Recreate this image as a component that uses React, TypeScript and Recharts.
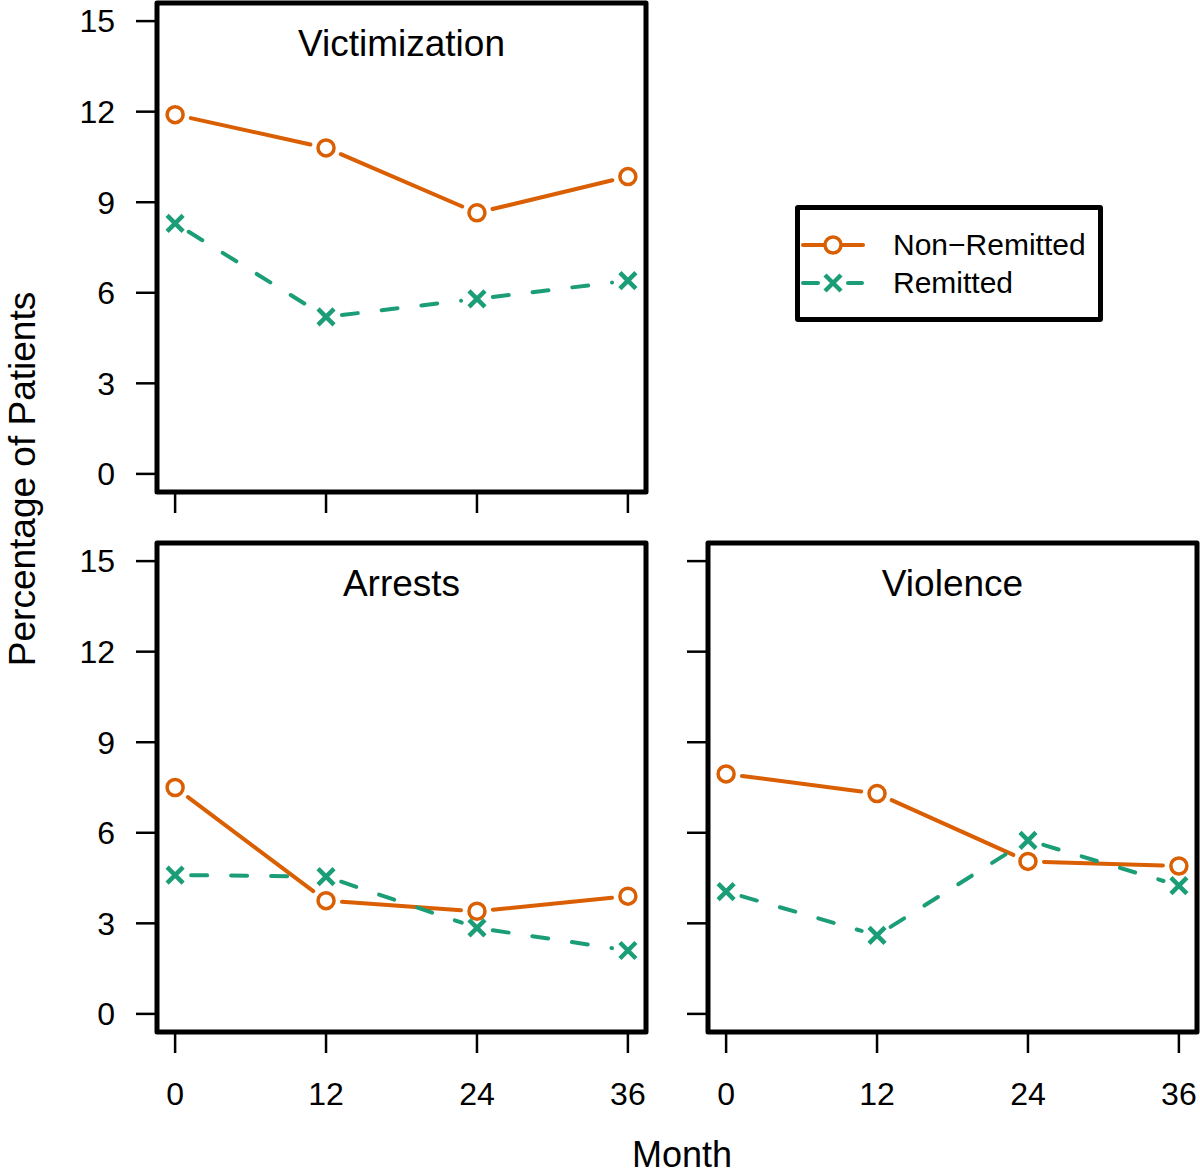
import React from 'react';
import { ComposedChart, Scatter, XAxis, YAxis, ReferenceArea, Legend } from 'recharts';

// months on the x axis, percentages
const months = [0, 12, 24, 36];
const yTicks = [0, 3, 6, 9, 12, 15];

const victimNonRemitted = [11.9, 10.8, 8.65, 9.85];
const victimRemitted = [8.3, 5.2, 5.8, 6.4];
const arrestsNonRemitted = [7.5, 3.75, 3.4, 3.9];
const arrestsRemitted = [4.6, 4.55, 2.85, 2.1];
const violenceNonRemitted = [7.95, 7.3, 5.05, 4.9];
const violenceRemitted = [4.05, 2.6, 5.75, 4.25];

const seriesNames = ['Non\u2212Remitted', 'Remitted'];

const ORANGE = '#D95F02';
const GREEN = '#1B9E77';
const X_DOMAIN: [number, number] = [-1.44, 37.44];
const Y_DOMAIN: [number, number] = [-0.6, 15.6];
const FONT = '"Liberation Sans", Arial, Helvetica, sans-serif';
const GAP = 16; // how far each segment stops short of a point (R type = "b")

const toRows = (non: number[], rem: number[]) =>
  months.map((m, i) => ({ month: m, nonRemitted: non[i], remitted: rem[i] }));

const circleMark = (cx: number, cy: number) => (
  <circle cx={cx} cy={cy} r={8} fill="none" stroke={ORANGE} strokeWidth={3.5} />
);

const crossMark = (cx: number, cy: number) => (
  <g>
    <line x1={cx - 8} y1={cy - 8} x2={cx + 8} y2={cy + 8} stroke={GREEN} strokeWidth={4.5} />
    <line x1={cx - 8} y1={cy + 8} x2={cx + 8} y2={cy - 8} stroke={GREEN} strokeWidth={4.5} />
  </g>
);

const circleShape = (p: any) => circleMark(p.cx, p.cy);
const crossShape = (p: any) => crossMark(p.cx, p.cy);

// joins the scatter's own points with segments that stop short of each symbol
const gappedLine = (color: string, dash?: string) => (props: any) => {
  const pts = (props.points || []).map((p: any) => ({ x: p.x ?? p.cx, y: p.y ?? p.cy }));
  const segs: React.ReactNode[] = [];
  for (let i = 0; i < pts.length - 1; i++) {
    const a = pts[i];
    const b = pts[i + 1];
    const dx = b.x - a.x;
    const dy = b.y - a.y;
    const len = Math.hypot(dx, dy);
    if (len <= 2 * GAP) continue;
    const ux = dx / len;
    const uy = dy / len;
    segs.push(
      <line
        key={i}
        x1={a.x + ux * GAP}
        y1={a.y + uy * GAP}
        x2={b.x - ux * GAP}
        y2={b.y - uy * GAP}
        stroke={color}
        strokeWidth={4}
        strokeDasharray={dash}
        strokeLinecap="round"
      />
    );
  }
  return <g className="recharts-scatter-line">{segs}</g>;
};

const blankTick = () => <g />;

const LegendBox = (props: any) => {
  const items = (props.payload || []).filter((it: any) => it.type !== 'none');
  return (
    <div
      style={{
        width: 308,
        height: 117,
        border: '5px solid #000',
        borderRadius: 3,
        boxSizing: 'border-box',
        background: '#fff',
        position: 'relative',
        fontFamily: FONT,
      }}
    >
      {items.map((it: any, i: number) => {
        const cy = 19;
        const isCircle = it.value === seriesNames[0];
        const color = isCircle ? ORANGE : GREEN;
        return (
          <div key={it.value} style={{ position: 'absolute', left: 0, top: 16 + i * 38, height: 38, width: 298 }}>
            <svg width={70} height={38} style={{ position: 'absolute', left: 0, top: 0 }}>
              {isCircle ? (
                <line x1={3} y1={cy} x2={63} y2={cy} stroke={color} strokeWidth={4} strokeLinecap="round" />
              ) : (
                <g>
                  <line x1={3} y1={cy} x2={18} y2={cy} stroke={color} strokeWidth={4} strokeLinecap="round" />
                  <line x1={48} y1={cy} x2={62} y2={cy} stroke={color} strokeWidth={4} strokeLinecap="round" />
                </g>
              )}
              {isCircle && <circle cx={33} cy={cy} r={8} fill="#fff" />}
              {isCircle ? circleMark(33, cy) : crossMark(33, cy)}
            </svg>
            <span
              style={{
                position: 'absolute',
                left: 93,
                top: 0,
                lineHeight: '38px',
                fontSize: 30,
                color: '#000',
                whiteSpace: 'nowrap',
              }}
            >
              {it.value}
            </span>
          </div>
        );
      })}
    </div>
  );
};

interface PanelProps {
  title: string;
  non: number[];
  rem: number[];
  left: number;
  top: number;
  width: number;
  height: number;
  marginRight: number;
  xAxisHeight: number;
  showX: boolean;
  showY: boolean;
  legend?: boolean;
}

const Panel: React.FC<PanelProps> = ({
  title, non, rem, left, top, width, height, marginRight, xAxisHeight, showX, showY, legend,
}) => {
  const data = toRows(non, rem);
  const tickStyle = { fill: '#000', fontSize: 32 };
  return (
    <div style={{ position: 'absolute', left, top }}>
      <ComposedChart
        width={width}
        height={height}
        data={data}
        margin={{ top: 3, right: marginRight, bottom: 0, left: 0 }}
      >
        <XAxis
          dataKey="month"
          type="number"
          domain={X_DOMAIN}
          ticks={months}
          allowDataOverflow
          axisLine={false}
          tickLine={{ stroke: '#000', strokeWidth: 2.5 }}
          tickSize={21}
          tickMargin={29}
          height={xAxisHeight}
          tick={showX ? tickStyle : blankTick}
        />
        <YAxis
          type="number"
          domain={Y_DOMAIN}
          ticks={yTicks}
          allowDataOverflow
          axisLine={false}
          tickLine={{ stroke: '#000', strokeWidth: 2.5 }}
          tickSize={21}
          tickMargin={21}
          width={80}
          tick={showY ? tickStyle : blankTick}
        />
        <Scatter
          dataKey="nonRemitted"
          name={seriesNames[0]}
          fill={ORANGE}
          line={gappedLine(ORANGE)}
          shape={circleShape}
          isAnimationActive={false}
        />
        <Scatter
          dataKey="remitted"
          name={seriesNames[1]}
          fill={GREEN}
          line={gappedLine(GREEN, '16 24')}
          shape={crossShape}
          isAnimationActive={false}
        />
        <ReferenceArea
          x1={X_DOMAIN[0]}
          x2={X_DOMAIN[1]}
          y1={Y_DOMAIN[0]}
          y2={Y_DOMAIN[1]}
          fill="none"
          stroke="#000"
          strokeWidth={5}
          strokeLinejoin="round"
          ifOverflow="visible"
          label={{ value: title, position: 'insideTop', offset: 27, fontSize: 37, fill: '#000' }}
        />
        {legend && (
          <Legend
            layout="horizontal"
            verticalAlign="middle"
            align="center"
            content={LegendBox}
            wrapperStyle={{ left: 718, top: 205, width: 308, height: 117 }}
          />
        )}
      </ComposedChart>
    </div>
  );
};

export default function App() {
  return (
    <div
      style={{
        position: 'absolute',
        left: 0,
        top: 0,
        width: 1200,
        height: 1174,
        background: '#fff',
        overflow: 'hidden',
        fontFamily: FONT,
      }}
    >
      <Panel
        title="Victimization"
        non={victimNonRemitted}
        rem={victimRemitted}
        left={77}
        top={0}
        width={1033}
        height={552}
        marginRight={464}
        xAxisHeight={60}
        showX={false}
        showY
        legend
      />
      <Panel
        title="Arrests"
        non={arrestsNonRemitted}
        rem={arrestsRemitted}
        left={77}
        top={540}
        width={579}
        height={572}
        marginRight={10}
        xAxisHeight={80}
        showX
        showY
      />
      <Panel
        title="Violence"
        non={violenceNonRemitted}
        rem={violenceRemitted}
        left={628}
        top={540}
        width={579}
        height={572}
        marginRight={10}
        xAxisHeight={80}
        showX
        showY={false}
      />
      <div
        style={{
          position: 'absolute',
          left: 22,
          top: 479,
          transform: 'translate(-50%, -50%) rotate(-90deg)',
          fontSize: 37,
          lineHeight: 1,
          whiteSpace: 'nowrap',
          color: '#000',
        }}
      >
        Percentage of Patients
      </div>
      <div
        style={{
          position: 'absolute',
          left: 682,
          top: 1155,
          transform: 'translate(-50%, -50%)',
          fontSize: 36,
          lineHeight: 1,
          whiteSpace: 'nowrap',
          color: '#000',
        }}
      >
        Month
      </div>
    </div>
  );
}
